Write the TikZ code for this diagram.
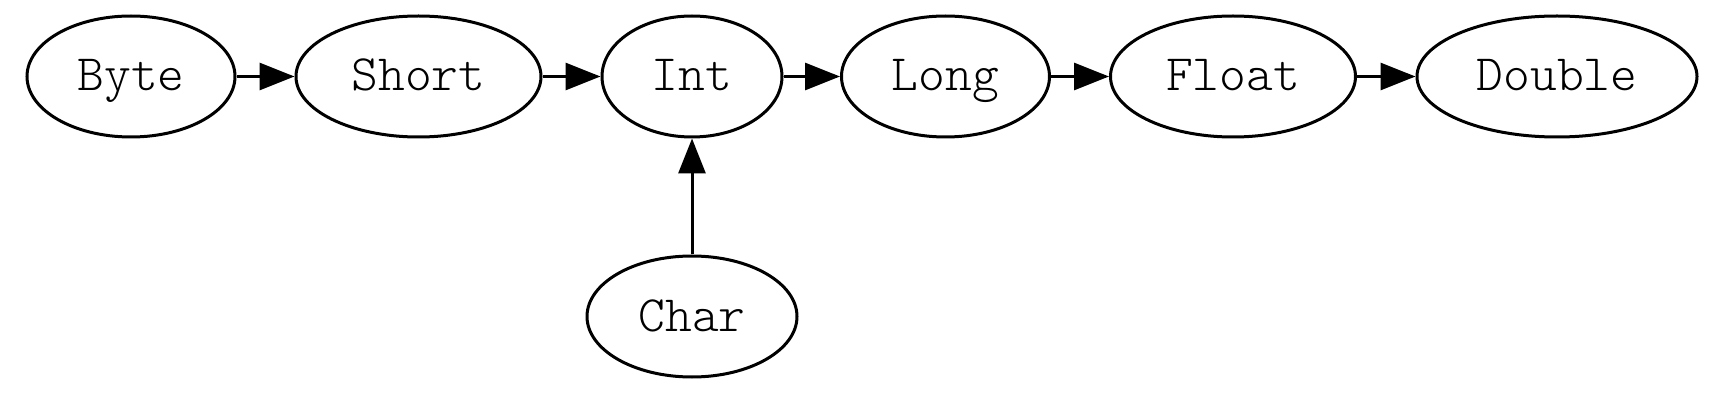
\documentclass[tikz,border=0pt]{standalone}
\usetikzlibrary{shapes.geometric,arrows.meta}
\tikzset{
  typenode/.style={ellipse,draw=black,line width=3pt,inner sep=0pt,minimum height=121pt,
    font=\ttfamily\fontseries{l}\fontsize{51}{60}\selectfont,text height=29pt,text depth=0pt},
  conv/.style={line width=3pt,-{Triangle[length=35pt,width=27pt]}}
}
\begin{document}
\begin{tikzpicture}[x=1pt,y=-1pt]
\useasboundingbox (0,0) rectangle (1714,406);
\node[typenode,minimum width=208pt] (byte) at (131,76.5) {Byte};
\node[typenode,minimum width=245pt] (short) at (418.5,76.5) {Short};
\node[typenode,minimum width=180pt] (int) at (692,76.5) {Int};
\node[typenode,minimum width=208pt] (long) at (945.5,76.5) {Long};
\node[typenode,minimum width=245pt] (float) at (1233,76.5) {Float};
\node[typenode,minimum width=280pt] (double) at (1557,76.5) {Double};
\node[typenode,minimum width=210pt] (char) at (692,316.5) {Char};
\draw[conv] (byte) -- (short);
\draw[conv] (short) -- (int);
\draw[conv] (int) -- (long);
\draw[conv] (long) -- (float);
\draw[conv] (float) -- (double);
\draw[conv] (char) -- (int);
\end{tikzpicture}
\end{document}
